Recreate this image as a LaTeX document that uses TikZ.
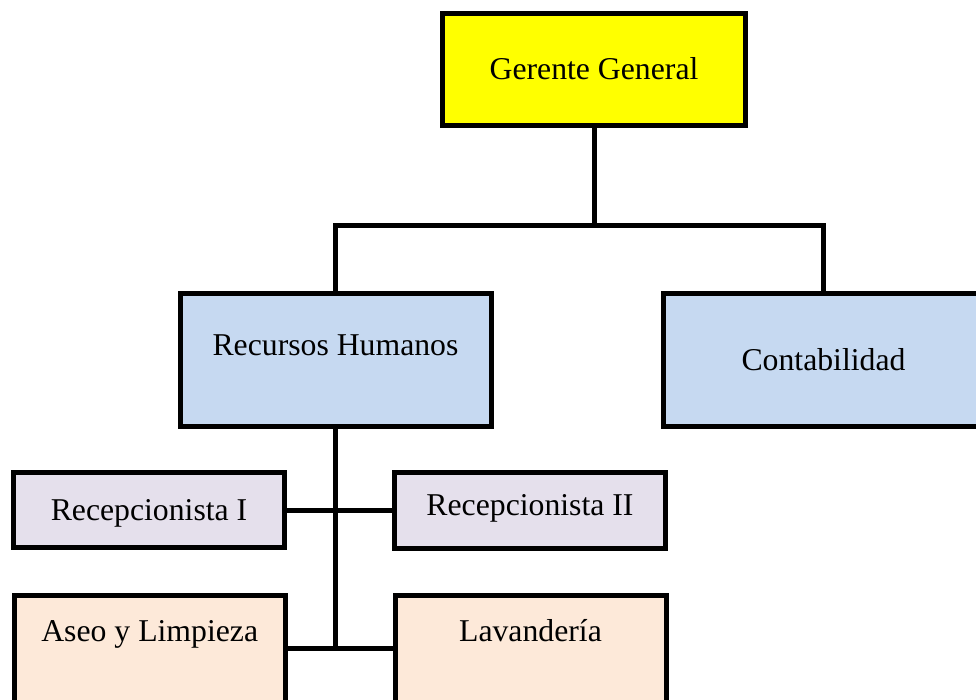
\documentclass[tikz,border=0pt]{standalone}
\usepackage{fontspec}
\setmainfont{Liberation Serif}
\usetikzlibrary{positioning, calc}
\definecolor{bossyellow}{RGB}{255,255,0}
\definecolor{deptblue}{RGB}{198,217,241}
\definecolor{desklilac}{RGB}{229,224,236}
\definecolor{servpeach}{RGB}{253,233,217}

\begin{document}
\begin{tikzpicture}[x=0.75pt, y=-0.75pt,
  unit/.style={draw=black, line width=3.75pt, inner sep=0pt,
    font=\fontsize{23.8pt}{28pt}\selectfont, text height=15.7pt, text depth=0pt},
  link/.style={line width=3.75pt}]
  \useasboundingbox (0,0) rectangle (976,700);
  \clip (0,0) rectangle (976,700);
  % top level
  \node[unit, fill=bossyellow, minimum width=227.25pt, minimum height=84pt]
    (gg) at (594,69.5) {Gerente General};
  % departments
  \node[unit, fill=deptblue, minimum width=233.25pt, minimum height=99.4pt,
    text depth=23.55pt] (rh) at (335.5,360.25) {Recursos Humanos};
  \node[unit, fill=deptblue, minimum width=240pt, minimum height=99.4pt]
    (cont) at (823.5,360.25) {Contabilidad};
  % staff under Recursos Humanos
  \node[unit, fill=desklilac, minimum width=203.25pt, minimum height=56.6pt]
    (rec1) at (149,510.25) {Recepcionista I};
  \node[unit, fill=desklilac, minimum width=203.25pt, minimum height=56.6pt,
    text depth=8.9pt] (rec2) at (530,510.5) {Recepcionista II};
  \node[unit, fill=servpeach, minimum width=203.25pt, minimum height=99.4pt,
    text depth=46.8pt] (aseo) at (149.7,661.75) {Aseo y Limpieza};
  \node[unit, fill=servpeach, minimum width=203.25pt, minimum height=99.4pt,
    text depth=46.8pt] (lav) at (530.5,661.75) {Lavandería};
  % connectors
  \coordinate (bus) at (594,225);
  \coordinate (hub) at (337,648);
  \draw[link] (gg.south) -- (bus);
  \draw[link] (rh.north) |- (bus) -| (cont.north);
  \draw[link] (rh.south) -- (rh.south |- hub);
  \draw[link] (rec1.east) -- (rec1.east -| rec2.west);
  \draw[link] (aseo.east |- hub) -- (lav.west |- hub);
\end{tikzpicture}
\end{document}
